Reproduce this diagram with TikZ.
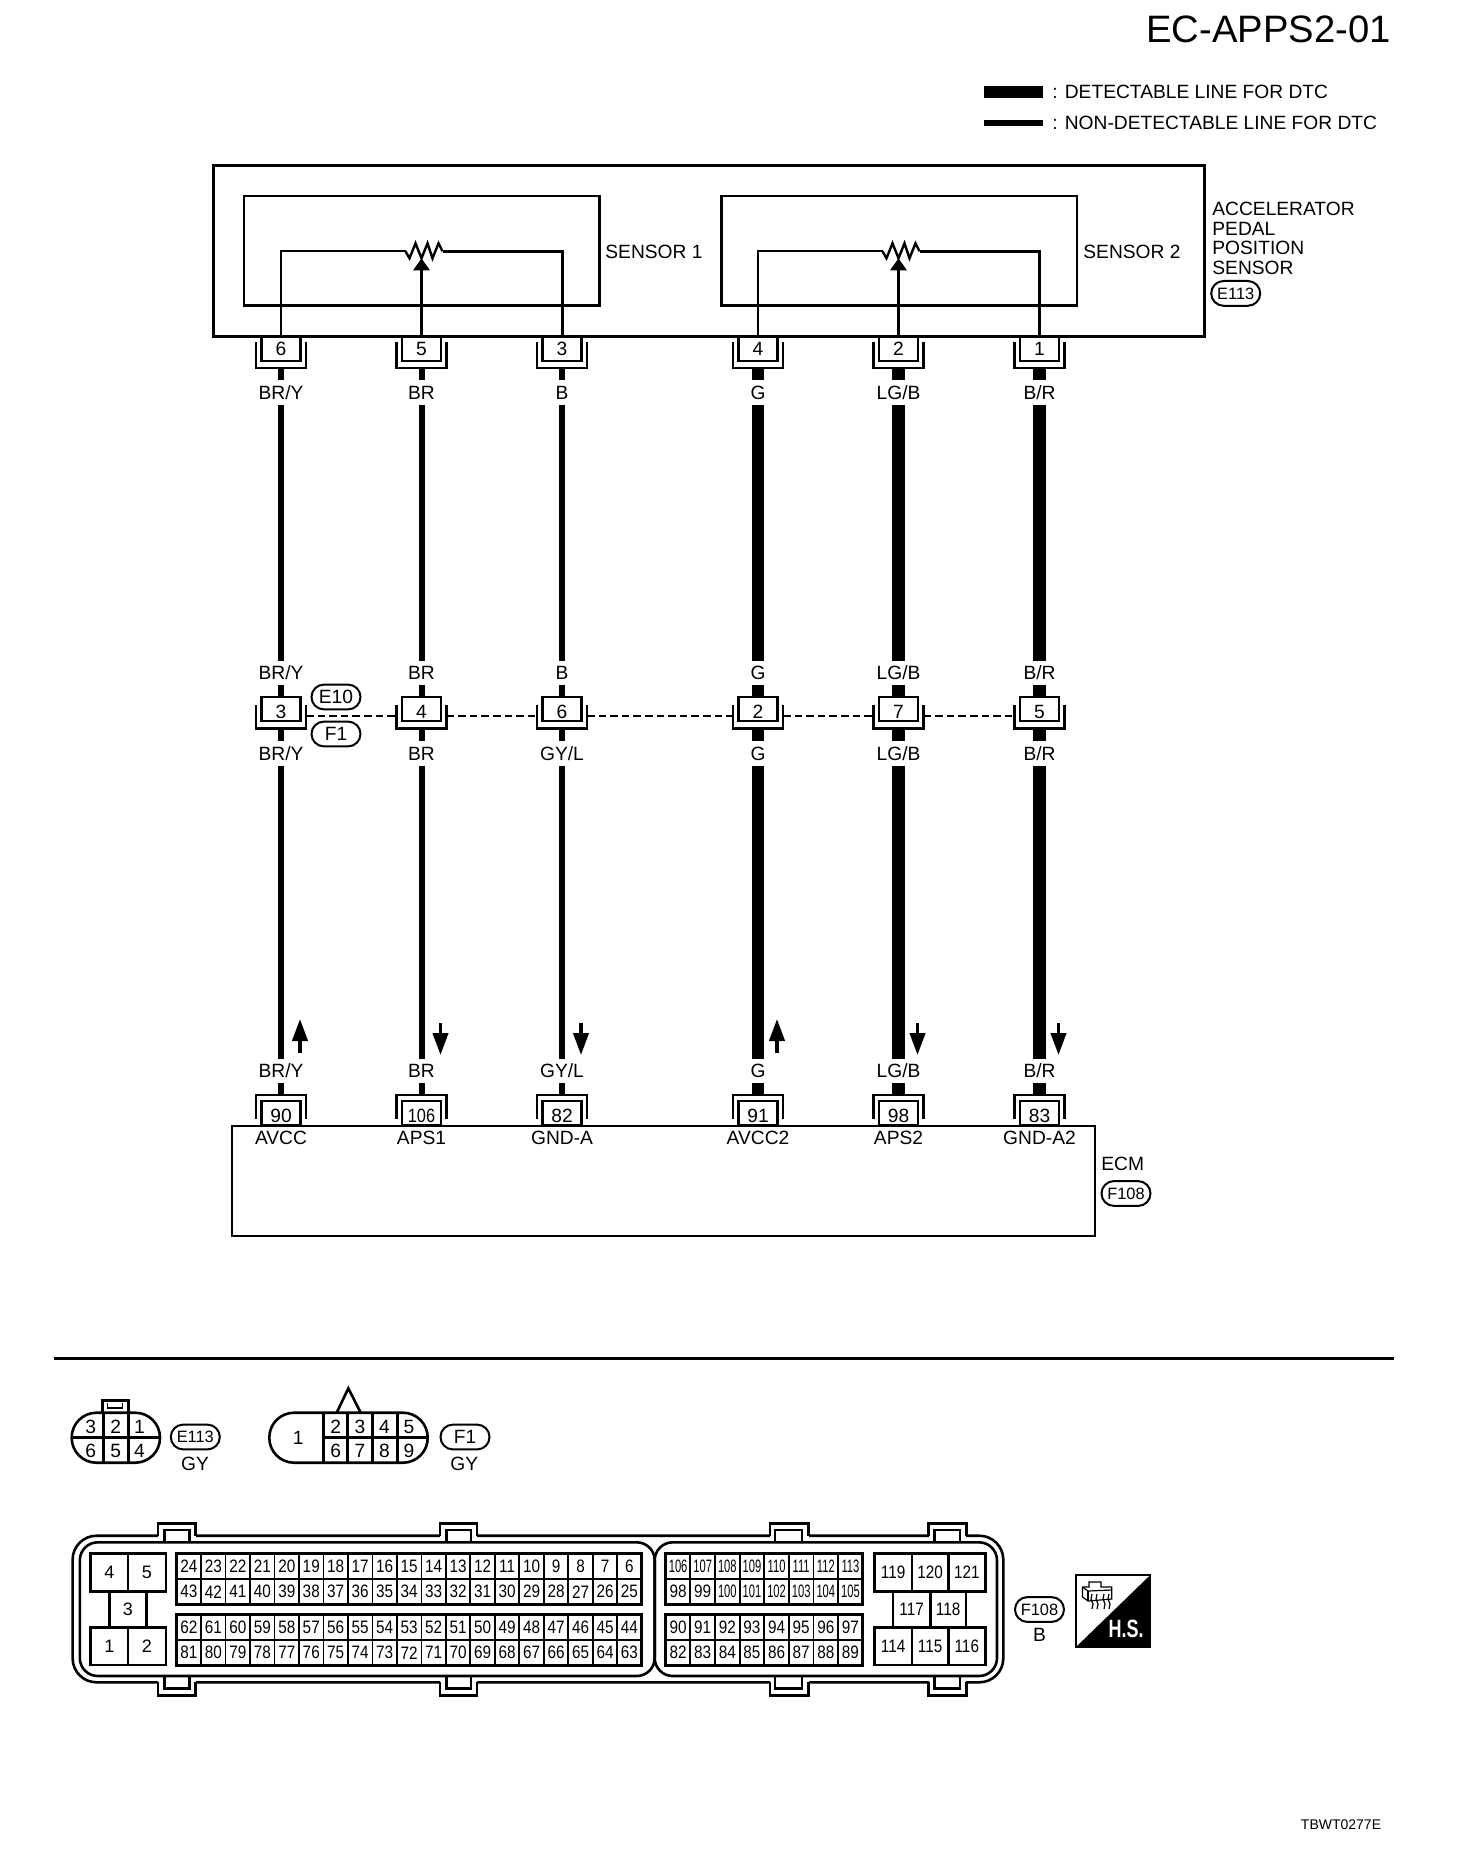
\documentclass[tikz,border=0pt]{standalone}
\usepackage{fontspec}
\setmainfont{Liberation Sans}
\newfontfamily\cellfont[FakeStretch=0.85]{Liberation Sans}
\newfontfamily\tinyfont[FakeStretch=0.62]{Liberation Sans}
\newfontfamily\hsfont[FakeStretch=0.72]{Liberation Sans}
\usetikzlibrary{arrows.meta, calc, positioning, shapes.misc}

\tikzset{
  every node/.style={inner sep=0pt, font=\fontsize{9.6}{11}\selectfont},
  pinbox/.style={draw, fill=white, line width=1.2pt, minimum width=19.5pt, minimum height=12pt},
  shellline/.style={line width=1.2pt},
  boxline/.style={line width=1.3pt},
  thinwire/.style={line width=3pt},
  thickwire/.style={line width=6.3pt},
  sensorwire/.style={line width=1.5pt},
  dashline/.style={line width=1pt, dash pattern=on 3.8pt off 2pt},
  wirelabel/.style={text height=6.9pt, text depth=0pt, minimum height=12pt},
  tagpill/.style={draw, rounded rectangle, line width=1pt, minimum width=24.5pt, minimum height=12.4pt},
  cellbox/.style={draw, line width=.9pt, minimum width=12.25pt, minimum height=12.8pt, font=\fontsize{9}{11}\cellfont},
  bigcell/.style={draw, line width=1.4pt, font=\fontsize{9}{11}\selectfont},
  blockframe/.style={line width=1.5pt},
  flowarrow/.style={line width=1.8pt, -{Triangle[length=11pt, width=7.6pt]}}
}

\begin{document}
\begin{tikzpicture}[x=0.5pt, y=-0.5pt]
  \useasboundingbox (0,0) rectangle (1456,1866);

  \node[anchor=east, font=\fontsize{19.1}{22}\selectfont] (title) at (1391,29) {EC-APPS2-01};
  \coordinate (legthicka) at (984,92);
  \coordinate (legthickb) at (1043,92);
  \coordinate (legthina) at (984,123);
  \coordinate (legthinb) at (1043,123);
  \draw[thickwire] (legthicka) -- (legthickb);
  \draw[thinwire, line width=2.6pt] (legthina) -- (legthinb);
  \node[anchor=west] (legtexta) at (1052,92) {: DETECTABLE LINE FOR DTC};
  \node[anchor=west] (legtextb) at (1052,122.5) {: NON-DETECTABLE LINE FOR DTC};

  \draw[boxline, line width=1.5pt] (213.4,165.3) rectangle (1204.3,336.7);
  \draw[boxline] (243.8,196) rectangle (599.6,305.7);
  \draw[boxline] (721.4,196) rectangle (1077,305.7);
  \node[anchor=west] (sensora) at (605,251.7) {SENSOR 1};
  \node[anchor=west] (sensorb) at (1083,251.7) {SENSOR 2};
  \node[anchor=west] (appsa) at (1212,209) {ACCELERATOR};
  \node[anchor=west] (appsb) at (1212,229) {PEDAL};
  \node[anchor=west] (appsc) at (1212,248) {POSITION};
  \node[anchor=west] (appsd) at (1212,268) {SENSOR};
  \node[tagpill, font=\fontsize{8.2}{10}\selectfont] (tage) at (1235.7,293.4) {E113};

  \draw[boxline, line width=1pt] (231.7,1125.7) rectangle (1095,1235.5);
  \node[anchor=west] (ecmlabel) at (1101,1164) {ECM};
  \node[tagpill, font=\fontsize{8.2}{10}\selectfont] (tagf) at (1126,1193.5) {F108};

  \foreach \i/\x/\toppin/\midpin/\ecmpin/\wa/\wb/\ecmname/\wire/\ya/\yb in {
    1/281/6/3/90/{BR/Y}/{BR/Y}/AVCC/thinwire/1053/1019,
    2/421.5/5/4/{\cellfont 106}/BR/BR/APS1/thinwire/1023/1055,
    3/562/3/6/82/B/{GY/L}/GND-A/thinwire/1023/1055,
    4/758/4/2/91/G/G/AVCC2/thickwire/1053/1019,
    5/898.5/2/7/98/{LG/B}/{LG/B}/APS2/thickwire/1023/1055,
    6/1039.5/1/5/83/{B/R}/{B/R}/GND-A2/thickwire/1023/1055} {
    \draw[shellline] (\x-25,342) |- (\x+25,368.3) -- (\x+25,342);
    \draw[shellline] (\x-25,705) |- (\x+25,728.3) -- (\x+25,705);
    \draw[shellline] (\x-25,1119) |- (\x+25,1095) -- (\x+25,1119);
    \node[pinbox] (top\i) at (\x,349) {\toppin};
    \node[pinbox, text height=9.3pt] (mid\i) at (\x,709.2) {\midpin};
    \node[pinbox, text height=9.3pt] (ecm\i) at (\x,1112.8) {\ecmpin};
    \coordinate (tbase\i) at (\x,368.3);
    \coordinate (mbase\i) at (\x,728.3);
    \coordinate (ebase\i) at (\x,1095);
    \coordinate (ml\i) at (\x-25,715.7);
    \coordinate (mr\i) at (\x+25,715.7);
    \node[wirelabel] (tlab\i) at (\x,392.5) {\wa};
    \node[wirelabel] (ulab\i) at (\x,673) {\wa};
    \node[wirelabel] (llab\i) at (\x,753.5) {\wb};
    \node[wirelabel] (blab\i) at (\x,1071) {\wb};
    \node (ename\i) at (\x,1138) {\ecmname};
    \draw[\wire] (tbase\i) -- (tlab\i);
    \draw[\wire] (tlab\i) -- (ulab\i);
    \draw[\wire] (ulab\i) -- (mid\i);
    \draw[\wire] (mbase\i) -- (llab\i);
    \draw[\wire] (llab\i) -- (blab\i);
    \draw[\wire] (blab\i) -- (ebase\i);
    \coordinate (arra\i) at (\x+19,\ya);
    \coordinate (arrb\i) at (\x+19,\yb);
    \draw[flowarrow] (arra\i) -- (arrb\i);
  }

  \foreach \a/\b in {1/2, 2/3, 3/4, 4/5, 5/6} {
    \draw[dashline] (mr\a) -- (ml\b);
  }
  \node[tagpill, fill=white] (tagea) at (336,697) {E10};
  \node[tagpill, fill=white] (tagfa) at (336,734) {F1};

  \foreach \s/\pa/\pb/\pc in {1/1/2/3, 2/4/5/6} {
    \coordinate (res\s) at (top\pb |- 0,251.3);
    \draw[sensorwire, line width=1.2pt] (res\s) ++(-16,0) coordinate (res\s l) -- ++(4,7) -- ++(6,-15) -- ++(6,15) -- ++(6,-15) -- ++(5,15) -- ++(6,-15) -- ++(4,8) coordinate (res\s r);
    \draw[sensorwire, line width=1.1pt] (top\pa.north) |- (res\s l);
    \draw[sensorwire] (top\pc.north) |- (res\s r);
    \draw[flowarrow, line width=1.5pt, -{Triangle[length=6pt, width=8pt]}] (top\pb.north) -- ($(res\s)+(0,7)$);
  }

  \draw[blockframe] (53.5,1358) coordinate (rulea) -- (1394,1358) coordinate (ruleb);

  \draw[boxline, rounded corners=12.4pt] (71.7,1412.7) rectangle (160,1462.7);
  \draw[boxline] (103.3,1412.7) -- (103.3,1462.7);
  \draw[boxline] (128.3,1412.7) -- (128.3,1462.7);
  \draw[boxline] (71.7,1437.3) -- (160,1437.3);
  \draw[boxline] (102.7,1412.7) |- (128.3,1400.7) -- (128.3,1412.7);
  \draw[sensorwire, line width=.8pt] (107.5,1403) |- (122.5,1408) -- (122.5,1403);
  \foreach \num/\x/\y in {3/90.7/1426.7, 2/115.7/1426.7, 1/139.5/1426.7, 6/90.7/1450.7, 5/115.7/1450.7, 4/139.5/1450.7} {
    \node (eterm\num) at (\x,\y) {\num};
  }
  \node[tagpill, font=\fontsize{8.2}{10}\selectfont] (tagec) at (195.3,1437) {E113};
  \node (tagecgy) at (195,1464) {GY};

  \draw[boxline, rounded corners=12.4pt] (269.3,1412.7) rectangle (427.7,1462.7);
  \foreach \x in {323.3, 347.7, 372.7, 397.3} {
    \draw[boxline] (\x,1412.7) -- (\x,1462.7);
  }
  \draw[boxline] (323.3,1437.3) -- (427.7,1437.3);
  \draw[boxline] (336.7,1412.7) -- (348.3,1388.3) -- (360.7,1412.7);
  \node (fterm1) at (298.3,1438) {1};
  \foreach \num/\x/\y in {2/335.7/1426.7, 3/360/1426.7, 4/384.5/1426.7, 5/409/1426.7, 6/335.7/1450.7, 7/360/1450.7, 8/384.5/1450.7, 9/409/1450.7} {
    \node (fterm\num) at (\x,\y) {\num};
  }
  \node[tagpill] (tagfc) at (465,1437) {F1};
  \node (tagfcgy) at (464.3,1464) {GY};

  \draw[boxline, rounded corners=12pt] (72.6,1535.7) rectangle (1003.3,1682.3);
  \draw[boxline, rounded corners=9pt] (79.8,1542.3) rectangle (654.7,1676);
  \draw[boxline, rounded corners=9pt] (654.7,1542.3) rectangle (997,1676);
  \foreach \xa/\xb/\xc/\xd in {158/164.7/189.6/195.6, 440/446.6/471/477, 770/775/802/808.7, 928.6/934.4/960/966.4} {
    \fill[white] (\xa,1534) rectangle (\xd,1537.5);
    \fill[white] (\xa,1680.5) rectangle (\xd,1684);
    \draw[boxline] (\xa,1535.7) |- (\xd,1523.3) -- (\xd,1535.7);
    \draw[boxline] (\xb,1542.3) |- (\xc,1530) -- (\xc,1542.3);
    \draw[boxline] (\xa,1682.3) |- (\xd,1695.7) -- (\xd,1682.3);
    \draw[boxline] (\xb,1676) |- (\xc,1688.3) -- (\xc,1676);
  }

  \foreach \num/\x/\y/\w/\h in {4/109.4/1572.5/37.2/38.4, 5/147/1572.5/38/38.4, 3/127.8/1609.5/36.8/35.6, 1/109.4/1646.2/37.2/37.7, 2/147/1646.2/38/37.7} {
    \node[bigcell, minimum width=\w*.5pt, minimum height=\h*.5pt] (cell\num) at (\x,\y) {\num};
  }
  \foreach \num/\x/\y/\w/\h in {119/893.1/1572.5/37.8/38.4, 120/930.1/1572.5/36.2/38.4, 121/966.8/1572.5/37.2/38.4, 117/911.6/1609.5/37.3/35.6, 118/948.1/1609.5/35.7/35.6, 114/893.1/1646.2/37.8/37.7, 115/930.1/1646.2/36.2/37.7, 116/966.8/1646.2/37.2/37.7} {
    \node[bigcell, minimum width=\w*.5pt, minimum height=\h*.5pt, font=\fontsize{9}{11}\cellfont] (cell\num) at (\x,\y) {\num};
  }

  \foreach \n in {0,...,18} {
    \foreach \first/\y in {24/1566.1, 43/1591.7, 62/1627.1, 81/1652.7} {
      \pgfmathtruncatemacro{\num}{\first-\n}
      \node[cellbox] (cell\num) at (176.6+12.25+24.48*\n,\y) {\num};
    }
  }
  \foreach \n in {0,...,7} {
    \foreach \first/\y in {106/1566.1, 98/1591.7, 90/1627.1, 82/1652.7} {
      \pgfmathtruncatemacro{\num}{\first+\n}
      \node[cellbox] (cell\num) at (665.8+12.3+24.62*\n,\y) {\ifnum\num>99 \tinyfont\fi\num};
    }
  }
  \draw[blockframe] (176.6,1553.3) rectangle (641.8,1604.3);
  \draw[blockframe] (176.6,1614.3) rectangle (641.8,1665.7);
  \draw[blockframe] (665.8,1553.3) rectangle (862.8,1604.3);
  \draw[blockframe] (665.8,1614.3) rectangle (862.8,1665.7);

  \node[tagpill, font=\fontsize{8.2}{10}\selectfont] (tagfb) at (1039.5,1609.5) {F108};
  \node (tagfbb) at (1039.5,1635) {B};

  \draw[boxline, line width=1pt] (1076.3,1575) rectangle (1150.3,1646.7);
  \fill (1150.3,1575) -- (1150.3,1646.7) -- (1076.3,1646.7) -- cycle;
  \node[text=white, font=\fontsize{12.5}{13}\hsfont\bfseries] (hs) at (1126,1629) {H.S.};
  \draw[line width=.6pt] (1082.5,1587) -- (1089,1587) -- (1089,1582) -- (1101,1582) -- (1101,1587) -- (1111.8,1587) -- (1111.8,1599) -- (1088,1601) -- (1082.5,1597) -- cycle;
  \draw[line width=.6pt] (1082.5,1587) -- (1088,1591) -- (1111.8,1590);
  \draw[line width=.6pt] (1088,1591) -- (1088,1601);
  \foreach \x in {1092, 1097, 1104, 1109} {
    \draw[line width=.6pt] (\x,1594) -- (\x-1,1599) -- (\x+1,1604) -- (\x,1609);
  }

  \node[font=\fontsize{7}{8}\selectfont] (drawingno) at (1341,1825) {TBWT0277E};
\end{tikzpicture}
\end{document}
